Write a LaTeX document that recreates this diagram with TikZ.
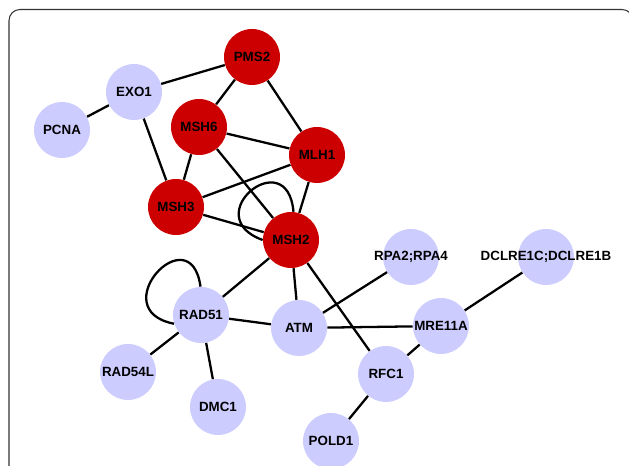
\documentclass[tikz,border=0pt]{standalone}
\usepackage{fontspec}
\setmainfont{Liberation Sans}
\usepackage{tikz}

\definecolor{mmrred}{HTML}{CC0000}
\definecolor{genelav}{HTML}{CCCCFF}

\begin{document}
\begin{tikzpicture}[x=0.02cm, y=0.02cm,
        gene/.style={circle, fill=genelav, minimum size=1.12cm, inner sep=0pt},
        mmr/.style={gene, fill=mmrred},
        every label/.style={font=\fontsize{7.6}{9}\selectfont\bfseries, inner sep=0pt},
        link/.style={line width=1.3pt, black}]
        % the frame
        \clip (0,0) rectangle (629,466);
        \draw[black!80, line width=0.6pt, rounded corners=0.22cm] (9,-20) rectangle (633,456.5);

        % mismatch repair genes
        \node[mmr, label=center:PMS2] (PMS2) at (252,409) {};
        \node[mmr, label=center:MSH6] (MSH6) at (199,339) {};
        \node[mmr, label=center:MLH1] (MLH1) at (317,311) {};
        \node[mmr, label=center:MSH3] (MSH3) at (176,259) {};
        \node[mmr, label=center:MSH2] (MSH2) at (291,226) {};

        % the other genes
        \node[gene, label=center:EXO1]   (EXO1)   at (134,374) {};
        \node[gene, label=center:PCNA]   (PCNA)   at (62,336) {};
        \node[gene, label=center:RPA2;RPA4] (RPA) at (411,209) {};
        \node[gene, label=center:DCLRE1C;DCLRE1B] (DCLRE) at (546,209) {};
        \node[gene, label=center:RAD51]  (RAD51)  at (201,151) {};
        \node[gene, label=center:ATM]    (ATM)    at (299,138) {};
        \node[gene, label=center:MRE11A] (MRE11A) at (441,140) {};
        \node[gene, label=center:RFC1]   (RFC1)   at (386,92) {};
        \node[gene, label=center:RAD54L] (RAD54L) at (128,94) {};
        \node[gene, label=center:DMC1]   (DMC1)   at (218,59) {};
        \node[gene, label=center:POLD1]  (POLD1)  at (331,25) {};

        % edges among the red ones
        \draw[link] (EXO1) -- (PMS2);
        \draw[link] (EXO1) -- (PCNA);
        \draw[link] (EXO1) -- (MSH3);
        \draw[link] (PMS2) -- (MSH6);
        \draw[link] (PMS2) -- (MLH1);
        \draw[link] (MSH6) -- (MLH1);
        \draw[link] (MSH6) -- (MSH3);
        \draw[link] (MSH6) -- (MSH2);
        \draw[link] (MLH1) -- (MSH3);
        \draw[link] (MLH1) -- (MSH2);
        \draw[link] (MSH3) -- (MSH2);
        \draw[link] (MSH2.west) to[out=160, in=95, looseness=4.3] (MSH2.85);

        % edges below MSH2
        \draw[link] (MSH2) -- (RAD51);
        \draw[link] (MSH2) -- (ATM);
        \draw[link] (MSH2) -- (RFC1);
        \draw[link] (RAD51.198) to[out=169, in=98, looseness=4.1] (RAD51.91);
        \draw[link] (RAD51) -- (ATM);
        \draw[link] (RAD51) -- (RAD54L);
        \draw[link] (RAD51) -- (DMC1);
        \draw[link] (ATM) -- (RPA);
        \draw[link] (ATM) -- (MRE11A);
        \draw[link] (MRE11A) -- (DCLRE);
        \draw[link] (MRE11A) -- (RFC1);
        \draw[link] (RFC1) -- (POLD1);
    \end{tikzpicture}
\end{document}
